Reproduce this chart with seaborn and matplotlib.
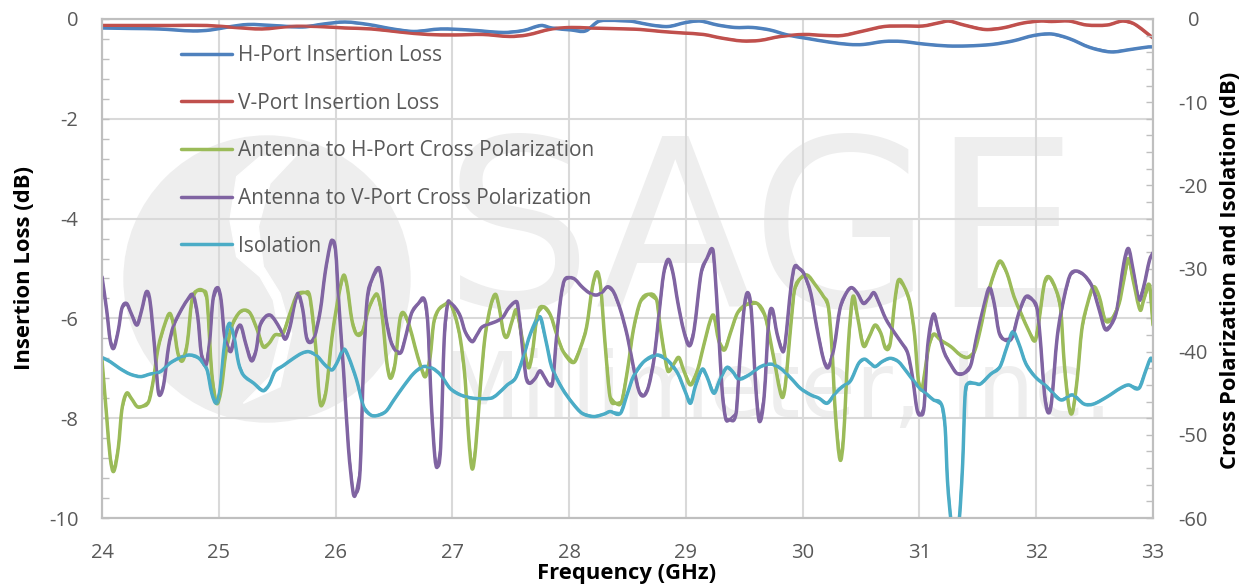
import matplotlib
matplotlib.use("Agg")

import matplotlib.pyplot as plt
import numpy as np
import pandas as pd
import seaborn as sns
from matplotlib.patches import Circle, PathPatch, Polygon
from matplotlib.path import Path
from matplotlib.ticker import MultipleLocator
from matplotlib.transforms import IdentityTransform

h_freq = [24.00, 24.25, 24.49, 24.78, 24.93, 25.08, 25.25, 25.46, 25.72, 25.90, 26.08, 26.28, 26.49, 26.67, 26.90,
          27.14, 27.44, 27.61, 27.76, 27.85, 28.02, 28.14, 28.26, 28.50, 28.55, 28.70, 28.85, 29.00, 29.12, 29.27,
          29.42, 29.57, 29.72, 29.87, 30.04, 30.22, 30.40, 30.52, 30.70, 30.85, 31.03, 31.24, 31.41, 31.62, 31.80,
          31.98, 32.13, 32.28, 32.46, 32.64, 32.81, 32.96, 33.00]
h_loss = [-0.18, -0.19, -0.20, -0.24, -0.22, -0.16, -0.11, -0.13, -0.16, -0.10, -0.06, -0.11, -0.20, -0.25, -0.20,
          -0.22, -0.27, -0.23, -0.13, -0.18, -0.22, -0.24, -0.04, -0.04, -0.05, -0.12, -0.15, -0.07, -0.04, -0.12,
          -0.17, -0.17, -0.22, -0.32, -0.39, -0.46, -0.51, -0.51, -0.45, -0.45, -0.50, -0.54, -0.54, -0.51, -0.44,
          -0.33, -0.30, -0.39, -0.57, -0.66, -0.61, -0.56, -0.56]

v_freq = [24.00, 24.60, 24.90, 25.14, 25.37, 25.61, 25.84, 26.08, 26.31, 26.55, 26.79, 27.02, 27.26, 27.49, 27.64,
          27.85, 28.02, 28.17, 28.50, 28.61, 28.79, 28.97, 29.15, 29.30, 29.48, 29.63, 29.81, 30.01, 30.19, 30.34,
          30.52, 30.70, 30.88, 31.03, 31.18, 31.25, 31.38, 31.56, 31.71, 31.89, 32.04, 32.13, 32.28, 32.43, 32.61,
          32.74, 32.84, 33.00]
v_loss = [-0.13, -0.13, -0.13, -0.17, -0.20, -0.15, -0.15, -0.18, -0.20, -0.26, -0.31, -0.32, -0.31, -0.35, -0.32,
          -0.20, -0.17, -0.18, -0.20, -0.21, -0.25, -0.28, -0.31, -0.38, -0.44, -0.43, -0.35, -0.31, -0.33, -0.33,
          -0.24, -0.15, -0.14, -0.14, -0.07, -0.04, -0.12, -0.21, -0.18, -0.08, -0.04, -0.05, -0.04, -0.12, -0.12,
          -0.04, -0.10, -0.38]

green_freq = [24.00, 24.04, 24.07, 24.10, 24.14, 24.17, 24.21, 24.25, 24.30, 24.34, 24.40, 24.44, 24.48, 24.54, 24.58,
              24.61, 24.65, 24.69, 24.73, 24.77, 24.81, 24.87, 24.90, 24.94, 24.98, 25.02, 25.06, 25.11, 25.17, 25.22,
              25.27, 25.33, 25.38, 25.43, 25.48, 25.55, 25.61, 25.67, 25.74, 25.78, 25.83, 25.86, 25.88, 25.92, 25.97,
              26.03, 26.07, 26.10, 26.14, 26.18, 26.23, 26.28, 26.33, 26.36, 26.40, 26.44, 26.47, 26.51, 26.55, 26.58,
              26.63, 26.68, 26.73, 26.77, 26.81, 26.84, 26.88, 26.94,
              26.98, 27.03, 27.07, 27.11, 27.14, 27.17, 27.20, 27.24, 27.28, 27.33, 27.37, 27.40, 27.44, 27.47, 27.51,
              27.55, 27.60, 27.65, 27.68, 27.73, 27.78, 27.84, 27.90, 27.95, 28.04, 28.10, 28.15, 28.20, 28.24, 28.27,
              28.31, 28.35, 28.40, 28.45, 28.50, 28.55, 28.61, 28.68, 28.75, 28.78, 28.83, 28.85, 28.90, 28.94, 28.98,
              29.04, 29.10, 29.15, 29.21, 29.24, 29.28, 29.33, 29.38, 29.44, 29.51, 29.61, 29.68, 29.75, 29.82, 29.85,
              29.90, 29.93, 29.98,
              30.04, 30.11, 30.18, 30.22, 30.25, 30.28, 30.32, 30.35, 30.39, 30.43, 30.47, 30.52, 30.57, 30.62, 30.67,
              30.71, 30.75, 30.79, 30.82, 30.87, 30.92, 30.96, 30.99, 31.02, 31.04, 31.08, 31.12, 31.18, 31.27, 31.35,
              31.41, 31.47, 31.52, 31.58, 31.64, 31.69, 31.75, 31.81, 31.87, 31.94, 31.99, 32.02, 32.07, 32.11, 32.17,
              32.21, 32.24, 32.28, 32.31, 32.35, 32.39, 32.44, 32.49, 32.54, 32.59, 32.65, 32.71, 32.75, 32.79, 32.83,
              32.89, 32.92, 32.97, 33.00]
green_xpol = [-41.0, -47.8, -52.7, -54.4, -51.5, -47.0, -45.0, -45.6, -46.6, -46.6, -46.0, -43.4, -39.6, -36.6, -35.4,
              -36.6, -40.2, -41.1, -39.0, -33.8, -32.7, -32.7, -33.8, -42.6, -46.2, -44.6, -40.2, -37.0, -35.4, -35.0,
              -35.4, -37.4, -39.4, -39.0, -38.0, -37.8, -35.4, -33.2, -32.9, -33.4, -39.4, -45.4, -46.5, -44.6, -38.2,
              -33.0, -30.8, -32.2, -36.2, -37.9, -37.6, -35.0, -33.4, -33.2, -35.8, -41.4, -43.2, -41.4, -36.2, -35.3,
              -36.8, -39.4, -41.8, -43.0, -40.6, -36.6, -35.0, -34.3,
              -34.1, -36.0, -38.6, -43.4, -50.3, -54.1, -51.5, -44.2, -38.2, -34.4, -33.1, -34.6, -37.8, -38.2, -36.4,
              -35.0, -38.6, -41.9, -40.6, -35.4, -34.6, -35.6, -38.2, -40.0, -41.3, -39.4, -37.0, -32.2, -30.4, -32.2,
              -39.4, -45.4, -46.2, -46.0, -42.2, -37.4, -34.0, -33.1, -33.8, -37.0, -41.4, -42.4, -41.4, -40.7, -42.2,
              -44.0, -42.2, -39.4, -36.2, -35.7, -38.6, -39.8, -37.8, -35.4, -34.4, -34.2, -35.8, -40.6, -45.4, -44.2,
              -36.6, -32.6, -31.2,
              -30.8, -32.0, -33.4, -34.6, -39.4, -47.4, -53.0, -50.3, -39.4, -33.4, -35.8, -39.3, -38.2, -36.8, -37.8,
              -39.6, -39.0, -33.8, -31.4, -32.2, -34.2, -38.2, -43.4, -44.6, -43.0, -39.4, -37.9, -38.6, -39.4, -40.4,
              -40.7, -40.0, -37.4, -33.4, -30.6, -29.1, -30.6, -33.4, -35.4, -37.6, -38.7, -36.6, -31.8, -31.0, -32.6,
              -35.0, -41.4, -46.6, -47.3, -43.4, -37.4, -34.2, -32.2, -33.4, -36.2, -36.0, -34.2, -31.4, -28.8, -31.4,
              -35.0, -33.8, -32.0, -36.8]

purple_freq = [24.00, 24.04, 24.07, 24.10, 24.14, 24.17, 24.21, 24.25, 24.30, 24.34, 24.38, 24.41, 24.45, 24.48, 24.50,
               24.53, 24.57, 24.61, 24.67, 24.73, 24.78, 24.82, 24.85, 24.89, 24.92, 24.95, 24.99, 25.02, 25.05, 25.10,
               25.13, 25.16, 25.19, 25.23, 25.28, 25.32, 25.35, 25.40, 25.44, 25.48, 25.53, 25.57, 25.61, 25.65, 25.68,
               25.72, 25.75, 25.78, 25.82, 25.87, 25.91, 25.95, 25.97, 26.00, 26.03, 26.07, 26.11, 26.15, 26.17, 26.21,
               26.24, 26.27, 26.31, 26.37, 26.40, 26.43, 26.47, 26.51, 26.56, 26.60, 26.65, 26.71, 26.76, 26.79, 26.82,
               26.85, 26.87, 26.90, 26.93, 26.96,
               26.98, 27.03, 27.07, 27.11, 27.17, 27.21, 27.25, 27.31, 27.37, 27.43, 27.48, 27.54, 27.56, 27.60, 27.63,
               27.66, 27.71, 27.75, 27.79, 27.83, 27.86, 27.89, 27.93, 27.96, 28.01, 28.05, 28.11, 28.17, 28.23, 28.28,
               28.33, 28.38, 28.44, 28.50, 28.55, 28.60, 28.64, 28.68, 28.73, 28.77, 28.81, 28.85, 28.89, 28.93, 28.98,
               29.03, 29.07, 29.13, 29.18, 29.23, 29.25, 29.28, 29.31, 29.34, 29.37, 29.43, 29.46, 29.50, 29.53, 29.56,
               29.60, 29.63, 29.67, 29.71, 29.74, 29.78, 29.83, 29.85, 29.90, 29.93, 29.97,
               30.01, 30.07, 30.12, 30.18, 30.22, 30.27, 30.32, 30.38, 30.42, 30.47, 30.52, 30.57, 30.61, 30.65, 30.71,
               30.78, 30.85, 30.90, 30.94, 30.98, 31.01, 31.04, 31.07, 31.12, 31.16, 31.21, 31.27, 31.32, 31.38, 31.44,
               31.49, 31.55, 31.60, 31.64, 31.68, 31.72, 31.79, 31.85, 31.91, 31.97, 32.01, 32.04, 32.07, 32.10, 32.13,
               32.18, 32.24, 32.29, 32.34, 32.41, 32.48, 32.54, 32.59, 32.64, 32.69, 32.75, 32.79, 32.83, 32.88, 32.92,
               32.97, 33.00]
purple_xpol = [-31.0, -35.0, -38.6, -39.6, -37.4, -34.8, -34.2, -35.4, -36.8, -35.0, -32.8, -33.8, -39.4, -44.6, -45.2,
               -43.8, -39.4, -37.0, -35.2, -33.8, -33.2, -35.8, -40.2, -41.6, -39.0, -33.8, -32.3, -33.8, -38.2, -40.0,
               -38.6, -37.2, -36.9, -39.0, -41.1, -39.8, -37.0, -35.8, -35.6, -36.2, -37.4, -38.5, -37.0, -34.2, -33.0,
               -35.0, -38.2, -38.9, -38.2, -35.0, -30.6, -27.4, -26.6, -27.8, -34.6, -42.6, -51.5, -56.9, -57.2, -54.3,
               -41.4, -33.8, -31.4, -29.9, -31.8, -35.8, -38.6, -39.8, -40.1, -38.2, -35.4, -34.2, -33.7, -36.6, -46.2,
               -52.6, -53.9, -51.5, -38.6, -34.2,
               -34.1, -34.8, -35.8, -37.6, -38.8, -38.0, -37.1, -36.7, -36.4, -35.9, -34.8, -34.0, -34.4, -39.4, -43.0,
               -43.8, -43.2, -42.3, -43.1, -44.0, -43.6, -38.6, -33.4, -31.4, -31.1, -31.3, -32.2, -32.9, -33.2, -32.9,
               -32.2, -32.8, -35.0, -38.2, -41.8, -44.8, -45.3, -44.2, -40.6, -35.4, -30.6, -28.9, -30.6, -34.0, -37.4,
               -39.3, -37.4, -30.6, -28.8, -27.7, -30.6, -37.4, -44.6, -48.0, -48.2, -47.4, -41.4, -34.6, -32.9, -35.0,
               -44.6, -48.4, -45.4, -36.2, -34.9, -37.8, -40.0, -39.0, -32.2, -29.8, -30.0,
               -30.6, -33.0, -37.0, -41.0, -41.9, -39.4, -34.8, -32.8, -32.3, -33.0, -34.2, -33.6, -32.9, -34.0, -36.0,
               -37.6, -39.0, -40.2, -43.0, -47.0, -47.6, -46.6, -39.4, -35.5, -37.4, -40.0, -41.6, -42.6, -42.6, -41.6,
               -38.2, -34.6, -32.3, -34.2, -37.6, -38.5, -38.4, -35.4, -33.4, -33.8, -35.0, -39.4, -45.0, -47.3, -46.2,
               -38.2, -33.4, -30.8, -30.3, -30.8, -32.2, -35.0, -37.3, -36.8, -35.0, -29.4, -27.6, -30.2, -33.8, -32.2,
               -29.0, -28.1]

iso_freq = [24.00, 24.07, 24.15, 24.24, 24.33, 24.41, 24.50, 24.58, 24.67, 24.75, 24.83, 24.90, 24.94, 24.98, 25.01,
            25.05, 25.09, 25.13, 25.17, 25.21, 25.30, 25.38, 25.43, 25.48, 25.55, 25.64, 25.71, 25.77, 25.84, 25.91,
            25.97, 26.01, 26.07, 26.11, 26.18, 26.24, 26.30, 26.35, 26.43, 26.50, 26.58, 26.67, 26.75, 26.83, 26.90,
            26.98, 27.07, 27.18, 27.33, 27.38, 27.47, 27.54, 27.60, 27.67, 27.75, 27.80, 27.85, 27.94, 28.03, 28.11,
            28.21, 28.30, 28.35, 28.44, 28.50, 28.55, 28.64, 28.75, 28.84, 28.93, 29.00, 29.04, 29.08, 29.14, 29.18,
            29.24, 29.29, 29.35, 29.40, 29.45, 29.54, 29.64, 29.73, 29.81, 29.90, 29.98,
            30.07, 30.14, 30.21, 30.28, 30.34, 30.41, 30.48, 30.53, 30.58, 30.62, 30.68, 30.75, 30.82, 30.89, 30.99,
            31.07, 31.12, 31.19, 31.22, 31.24, 31.27, 31.30, 31.34, 31.37, 31.39, 31.41, 31.47, 31.52, 31.61, 31.69,
            31.75, 31.80, 31.85, 31.91, 31.99, 32.09, 32.21, 32.31, 32.41, 32.49, 32.61, 32.72, 32.79, 32.88, 32.94,
            32.98, 33.00]
iso_level = [-40.7, -41.2, -42.0, -42.7, -43.0, -42.7, -42.4, -41.4, -40.7, -40.4, -40.8, -42.2, -45.0, -46.2, -44.6,
             -39.0, -36.6, -38.2, -41.4, -42.8, -43.8, -44.7, -44.0, -42.4, -41.7, -40.8, -40.2, -40.0, -40.5, -41.6,
             -42.2, -41.4, -39.7, -40.6, -43.4, -46.6, -47.6, -47.7, -47.2, -45.8, -44.2, -42.6, -41.8, -42.0, -42.8,
             -44.4, -45.2, -45.6, -45.6, -45.2, -44.0, -43.2, -41.0, -37.8, -35.8, -38.6, -41.8, -44.4, -46.2, -47.4,
             -47.8, -47.5, -47.2, -47.4, -45.0, -43.0, -41.2, -40.4, -41.0, -42.6, -45.0, -46.2, -44.2, -42.1, -43.0,
             -45.0, -43.4, -41.9, -42.4, -43.3, -42.8, -41.8, -41.5, -42.0, -43.2, -44.4,
             -45.2, -45.6, -46.2, -45.0, -44.2, -43.5, -41.4, -40.9, -41.4, -41.8, -41.2, -40.8, -41.2, -42.4, -44.2,
             -45.2, -45.8, -46.4, -49.1, -55.5, -60.3, -63.0, -60.3, -53.5, -45.4, -43.9, -43.8, -43.9, -42.7, -41.8,
             -39.4, -37.6, -39.0, -41.4, -43.0, -44.2, -45.8, -45.2, -46.3, -46.3, -45.4, -44.4, -44.0, -44.4, -42.2,
             -40.8, -41.2]

left_series = [
    ("H-Port Insertion Loss", h_freq, h_loss, "#4F81BD"),
    ("V-Port Insertion Loss", v_freq, v_loss, "#C0504D"),
]
right_series = [
    ("Antenna to H-Port Cross Polarization", green_freq, green_xpol, "#9BBB59"),
    ("Antenna to V-Port Cross Polarization", purple_freq, purple_xpol, "#8064A2"),
    ("Isolation", iso_freq, iso_level, "#4BACC6"),
]

sns.set_theme(style="white")
plt.rcParams["font.family"] = ["Open Sans", "DejaVu Sans"]

GRID = "#D9D9D9"
AXIS = "#BFBFBF"
TEXT = "#595959"
MARK = "#EEEEEE"
LABEL_SIZE = 15.8
TICK_SIZE = 14.5

fig = plt.figure(figsize=(12.5, 5.87), dpi=100)
ax = fig.add_axes([102 / 1250, 1 - 518 / 587, 1051 / 1250, 499 / 587])
ax2 = ax.twinx()


def smooth_path(freq, level):
    # same rounding the spreadsheet applies to a line between its readings
    x = np.asarray(freq)
    y = np.asarray(level)
    slope = np.gradient(y, x, edge_order=1)
    slope[1:-1] = (y[2:] - y[:-2]) / (x[2:] - x[:-2])
    verts = [(x[0], y[0])]
    codes = [Path.MOVETO]
    for i in range(len(x) - 1):
        h = (x[i + 1] - x[i]) / 3
        verts += [(x[i] + h, y[i] + slope[i] * h), (x[i + 1] - h, y[i + 1] - slope[i + 1] * h), (x[i + 1], y[i + 1])]
        codes += [Path.CURVE4, Path.CURVE4, Path.CURVE4]
    return Path(verts, codes)


def draw(series, axis):
    for label, freq, level, colour in series:
        frame = pd.DataFrame({"freq": freq, "level": level})
        sns.lineplot(data=frame, x="freq", y="level", ax=axis, color=colour, lw=1.6, label=label,
                     estimator=None, sort=False, legend=False, solid_joinstyle="round")
        axis.add_patch(PathPatch(smooth_path(freq, level), fc="none", ec=colour, lw=2.5, capstyle="round",
                                 joinstyle="round"))


draw(left_series, ax)
draw(right_series, ax2)

ax.set_xlim(24, 33)
ax.set_ylim(-10, 0)
ax2.set_ylim(-60, 0)

ax.set_yticks(range(-10, 1, 2), [str(v) for v in range(-10, 1, 2)])
ax2.set_yticks(range(-60, 1, 10), [str(v) for v in range(-60, 1, 10)])
ax.set_xticks(range(24, 34), [str(v) for v in range(24, 34)])
ax.xaxis.set_minor_locator(MultipleLocator(0.2))
ax.yaxis.set_minor_locator(MultipleLocator(0.4))
ax2.yaxis.set_minor_locator(MultipleLocator(2))
ax.grid(True, which="major", color=GRID, lw=1.5)
ax.set_axisbelow(True)

ax.tick_params(axis="both", which="minor", direction="in", length=5, width=1, color=AXIS)
ax.tick_params(axis="both", which="major", direction="in", length=5, width=1, color=AXIS, labelsize=TICK_SIZE,
               labelcolor=TEXT, pad=17)
ax.tick_params(axis="x", which="major", pad=18)
ax2.tick_params(axis="y", which="minor", direction="in", length=5, width=1, color=AXIS)
ax2.tick_params(axis="y", which="major", direction="in", length=5, width=1, color=AXIS, labelsize=TICK_SIZE,
                labelcolor=TEXT, pad=29)
for tick in ax2.get_yticklabels():
    tick.set_ha("center")

for axis in (ax, ax2):
    for spine in axis.spines.values():
        spine.set_color(AXIS)
        spine.set_linewidth(1.5)

ax.set_xlabel("")
ax.set_ylabel("")
ax2.set_ylabel("")
fig.text(627 / 1250, 1 - 573 / 587, "Frequency (GHz)", ha="center", va="center", fontsize=LABEL_SIZE,
         fontweight="bold", color="black")
fig.text(25 / 1250, 1 - 268 / 587, "Insertion Loss (dB)", ha="center", va="center", rotation=90,
         fontsize=LABEL_SIZE, fontweight="bold", color="black")
fig.text(1230 / 1250, 1 - 270 / 587, "Cross Polarization and Isolation (dB)", ha="center", va="center", rotation=90,
         fontsize=LABEL_SIZE, fontweight="bold", color="black")

# watermark behind the axes, positions in figure pixels from the top left
swirl = [(560, 105), (480, 190), (445, 320), (460, 440), (510, 520), (545, 640), (510, 800), (400, 850), (480, 770),
         (510, 650), (490, 540), (450, 470), (380, 410), (360, 300), (380, 170), (450, 110)]
swirl_px = [(110 + zx / 3, 587 - (120 + zy / 3)) for zx, zy in swirl]
fig.add_artist(Circle((267, 587 - 279), 143, transform=IdentityTransform(), color=MARK, zorder=-6))
fig.add_artist(Polygon(swirl_px, closed=True, transform=IdentityTransform(), color="white", zorder=-5))
fig.text(762 / 1250, 1 - 307 / 587, "SAGE", ha="center", va="baseline", family="DejaVu Sans", fontsize=168,
         color=MARK, zorder=-5)
fig.text(778 / 1250, 1 - 417 / 587, "Millimeter, Inc.", ha="center", va="baseline", family="DejaVu Sans",
         fontsize=65, color=MARK, zorder=-5)
ax.patch.set_alpha(0)
ax2.patch.set_alpha(0)

handles = ax.get_lines() + ax2.get_lines()
handles = [h for h in handles if not h.get_label().startswith("_")]
legend = ax2.legend(handles, [h.get_label() for h in handles], loc="upper left",
                    bbox_to_anchor=(79 / 1051, 1 - 26 / 499), frameon=False, fontsize=15, labelcolor=TEXT,
                    labelspacing=1.28, handlelength=2.45, handletextpad=0.3, borderaxespad=0, borderpad=0)
for handle in legend.legend_handles:
    handle.set_linewidth(2.5)

plt.savefig("out.png", dpi=100)
plt.close()
